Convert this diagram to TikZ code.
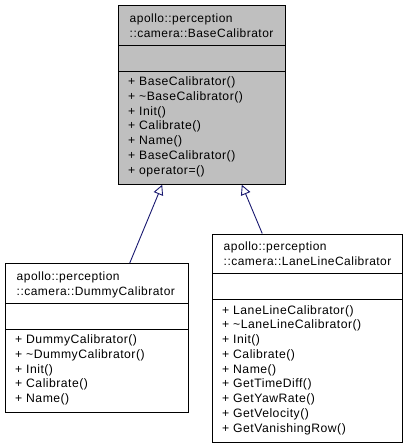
\documentclass[tikz,border=0pt]{standalone}
\usepackage{fontspec}
\setmainfont{Liberation Sans}[LetterSpace=4]
\usetikzlibrary{arrows.meta,calc}
\definecolor{edgeblue}{HTML}{191970}
\definecolor{basegray}{HTML}{BFBFBF}
\tikzset{
  clsbox/.style={draw=black, line width=1pt, fill=white, inner sep=0pt, anchor=north west, minimum width=#1},
  txt/.style={anchor=west, inner sep=0pt, text height=8.5pt, text depth=2.5pt, font=\fontsize{12}{14}\selectfont},
  mtxt/.style={anchor=west, inner sep=0pt, text height=8.5pt, text depth=2.5pt, font=\fontsize{12.2}{14}\selectfont},
  inherit/.style={draw=edgeblue, line width=0.9pt, -{Triangle[open, length=10pt, width=10pt, fill=white]}},
}
\begin{document}
\begin{tikzpicture}[x=1pt, y=-1pt]
\useasboundingbox (0,0) rectangle (407,448);
% base class
\node[clsbox=167pt, fill=basegray, minimum height=178.75pt] (base) at (118,5) {};
\draw[line width=1pt] ($(base.north west)+(0,40)$) -- ($(base.north east)+(0,40)$);
\draw[line width=1pt] ($(base.north west)+(0,66)$) -- ($(base.north east)+(0,66)$);
\node[txt] (base-h1) at ($(base.north west)+(11.5,14)$) {apollo::perception};
\node[txt] (base-h2) at ($(base.north west)+(11.5,29)$) {::camera::BaseCalibrator};
\foreach \t [count=\i] in {BaseCalibrator(), \textasciitilde BaseCalibrator(), Init(), Calibrate(), Name(), BaseCalibrator(), operator=()}
  \node[mtxt] (base-m\i) at ($(base.north west)+(10,77.5+14.75*\i-14.75)$) {+ \t};
% dummy
\node[clsbox=183pt, minimum height=149.25pt] (dummy) at (5,263) {};
\draw[line width=1pt] ($(dummy.north west)+(0,40)$) -- ($(dummy.north east)+(0,40)$);
\draw[line width=1pt] ($(dummy.north west)+(0,66)$) -- ($(dummy.north east)+(0,66)$);
\node[txt] (dummy-h1) at ($(dummy.north west)+(11.5,14)$) {apollo::perception};
\node[txt] (dummy-h2) at ($(dummy.north west)+(11.5,29)$) {::camera::DummyCalibrator};
\foreach \t [count=\i] in {DummyCalibrator(), \textasciitilde DummyCalibrator(), Init(), Calibrate(), Name()}
  \node[mtxt] (dummy-m\i) at ($(dummy.north west)+(10,77.5+14.75*\i-14.75)$) {+ \t};
% lane line
\node[clsbox=190pt, minimum height=208.25pt] (lane) at (212,233.5) {};
\draw[line width=1pt] ($(lane.north west)+(0,40)$) -- ($(lane.north east)+(0,40)$);
\draw[line width=1pt] ($(lane.north west)+(0,66)$) -- ($(lane.north east)+(0,66)$);
\node[txt] (lane-h1) at ($(lane.north west)+(11.5,14)$) {apollo::perception};
\node[txt] (lane-h2) at ($(lane.north west)+(11.5,29)$) {::camera::LaneLineCalibrator};
\foreach \t [count=\i] in {LaneLineCalibrator(), \textasciitilde LaneLineCalibrator(), Init(), Calibrate(), Name(), GetTimeDiff(), GetYawRate(), GetVelocity(), GetVanishingRow()}
  \node[mtxt] (lane-m\i) at ($(lane.north west)+(10,77.5+14.75*\i-14.75)$) {+ \t};
% inheritance
\draw[inherit] ($(dummy.north west)!0.678!(dummy.north east)$) -- ($(base.south west)!0.263!(base.south east)$);
\draw[inherit] ($(lane.north west)!0.263!(lane.north east)$) -- ($(base.south west)!0.737!(base.south east)$);
\end{tikzpicture}
\end{document}
